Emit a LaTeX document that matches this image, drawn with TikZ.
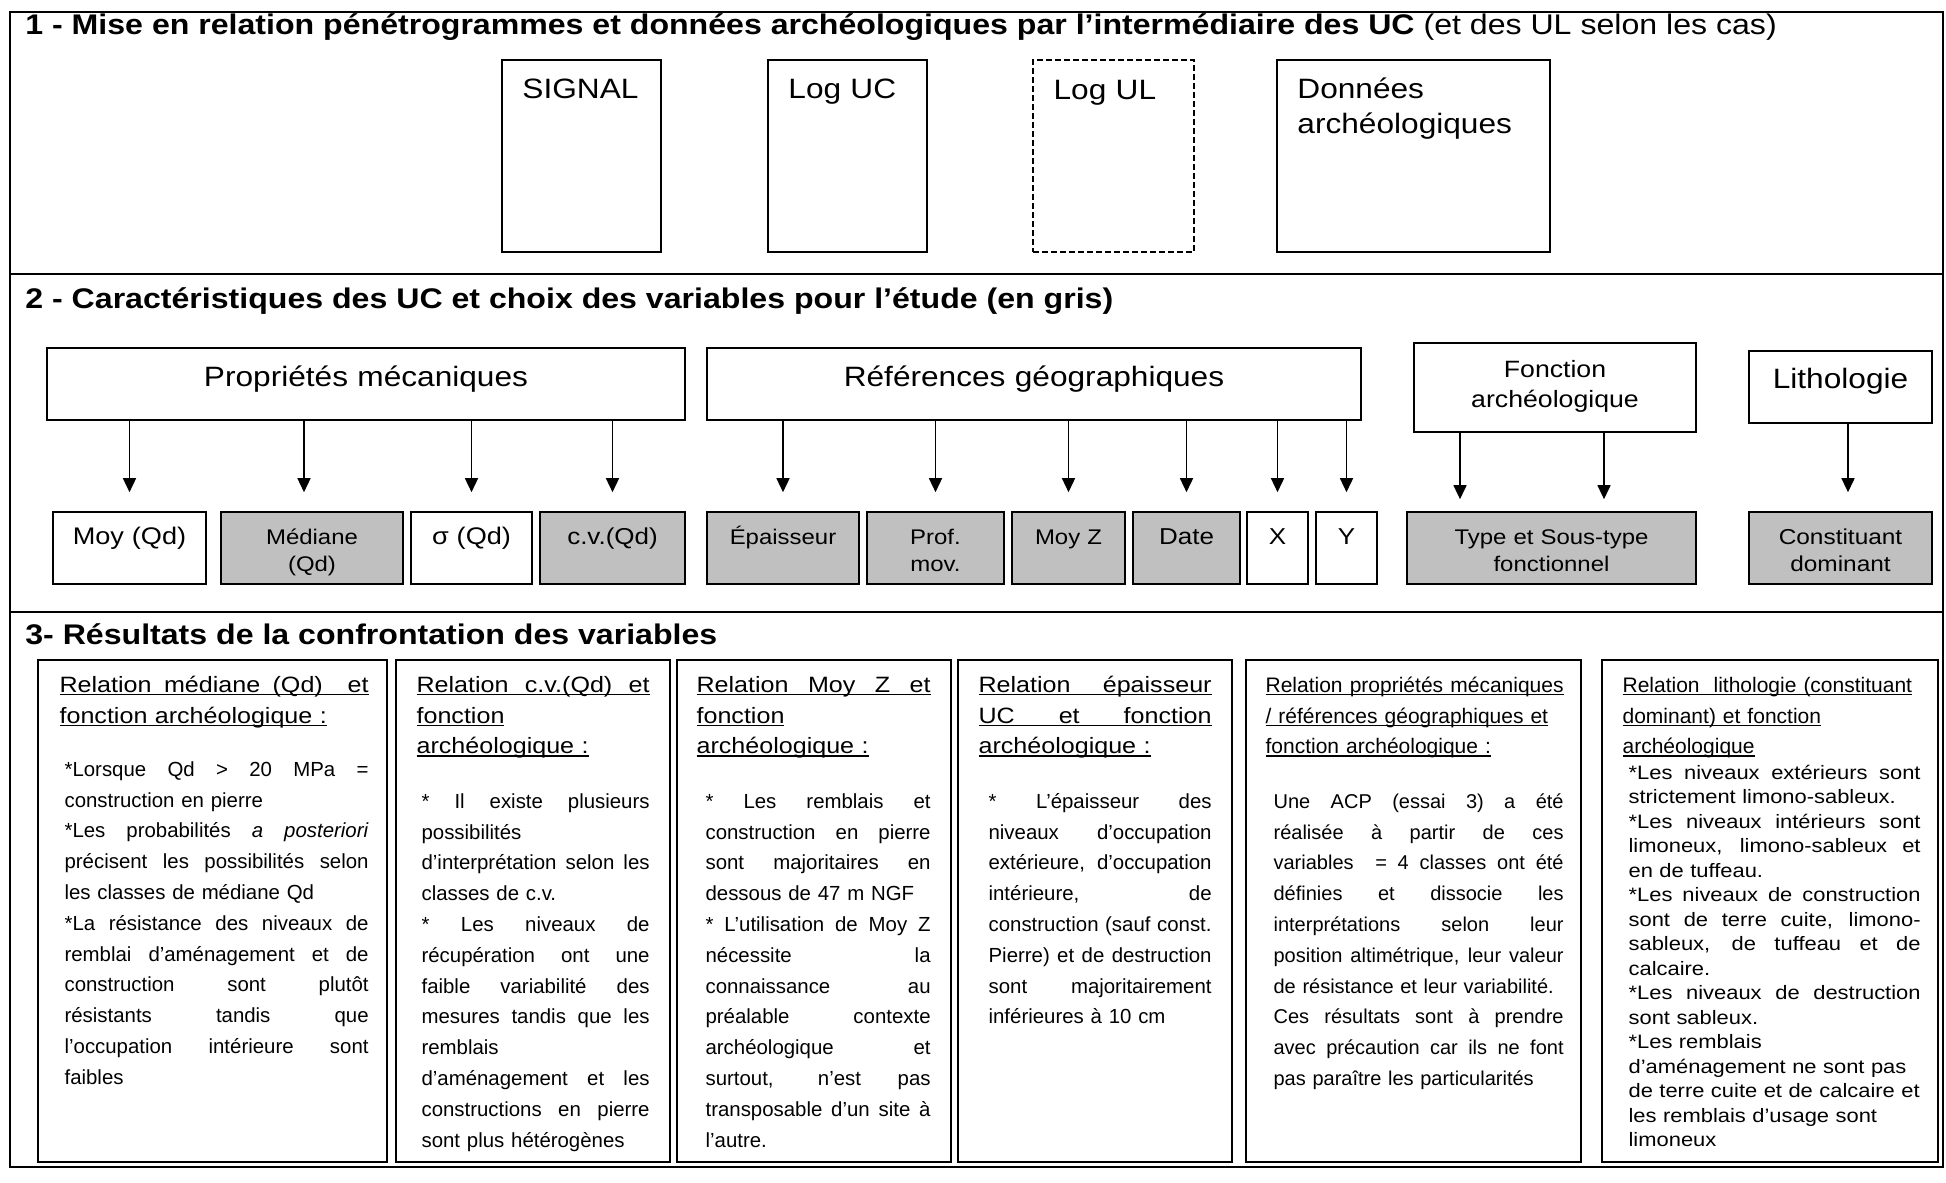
\documentclass[tikz,border=0pt]{standalone}
\usepackage{fontspec}
\setmainfont[FakeStretch=1.13]{Liberation Sans}
\newfontfamily\corpsfont{Liberation Sans}
\usetikzlibrary{arrows.meta,positioning,fit}
\definecolor{gris}{HTML}{C0C0C0}
\newsavebox\ulbox
\newcommand\souligne[1]{\leavevmode\sbox\ulbox{#1}\rlap{\rule[-1.6pt]{\wd\ulbox}{0.8pt}}\usebox\ulbox}
\newcommand\pleine[1]{\makebox[\linewidth][s]{\spaceskip=0pt\relax\xspaceskip=0pt\relax #1}}

\begin{document}
\begin{tikzpicture}[x=0.5pt,y=-0.5pt,
  titre/.style={anchor=base west, inner sep=0pt, font=\fontsize{14.2}{17}\selectfont\bfseries},
  cadre/.style={draw, line width=0.8pt, inner sep=0pt},
  logtxt/.style={anchor=base west, inner sep=0pt, align=left, text width=130pt, font=\fontsize{14}{17.5}\selectfont},
  groupetxt/.style={anchor=base, inner sep=0pt, align=center, text width=300pt, font=\fontsize{14}{15}\selectfont},
  vargris/.style={cadre, fill=gris},
  vartxt/.style={anchor=base, inner sep=0pt, align=center, text width=120pt},
  entete/.style={anchor=base west, inner sep=0pt, align=left, font=\fontsize{11.1}{15.4}\selectfont},
  corps/.style={anchor=base west, inner sep=0pt, align=left, font=\corpsfont\fontsize{10.2}{15.4}\selectfont},
  fleche/.style={-{Triangle[length=7pt,width=6.5pt]}, line width=0.75pt, shorten >=9.5pt}]
  \useasboundingbox (0,0) rectangle (1946,1182);

  % frame and separators
  \draw[line width=1pt] (10,12) rectangle (1943,1167);
  \draw[line width=1pt] (10,274) -- (1943,274);
  \draw[line width=1pt] (10,612) -- (1943,612);

  % 1 - pénétrogrammes / données
  \node[titre] (titre1) at (25,35) {1 - Mise en relation pénétrogrammes et données archéologiques par l’intermédiaire des UC {\mdseries(et des UL selon les cas)}};

  \node[cadre, line width=1pt, fit={(502,60) (661,252)}] (signal) {};
  \node[logtxt] (signal-t) at ([shift={(21,40)}]signal.north west) {SIGNAL};
  \node[cadre, line width=1pt, fit={(768,60) (927,252)}] (loguc) {};
  \node[logtxt] (loguc-t) at ([shift={(21,40)}]loguc.north west) {Log UC};
  \node[cadre, dash pattern=on 3pt off 1.5pt, fit={(1033,60) (1194,252)}] (logul) {};
  \node[logtxt] (logul-t) at ([shift={(21,40)}]logul.north west) {Log UL};
  \node[cadre, line width=1pt, fit={(1277,60) (1550,252)}] (donnees) {};
  \node[logtxt] (donnees-t) at ([shift={(21,40)}]donnees.north west) {Données\\archéologiques};

  % 2 - variables
  \node[titre] (titre2) at (25,308) {2 - Caractéristiques des UC et choix des variables pour l’étude (en gris)};

  \node[cadre, fit={(47,348) (685,420)}] (meca) {};
  \node[groupetxt] (meca-t) at ([shift={(0,39)}]meca.north) {Propriétés mécaniques};
  \node[cadre, fit={(707,348) (1361,420)}] (geo) {};
  \node[groupetxt] (geo-t) at ([shift={(0,39)}]geo.north) {Références géographiques};
  \node[cadre, fit={(1414,343) (1696,432)}] (fonc) {};
  \node[groupetxt, font=\fontsize{11.8}{15}\selectfont] (fonc-t) at ([shift={(0,35)}]fonc.north) {Fonction\\archéologique};
  \node[cadre, fit={(1749,351) (1932,423)}] (litho) {};
  \node[groupetxt] (litho-t) at ([shift={(0,38)}]litho.north) {Lithologie};

  \node[cadre, fit={(53,512) (206,584)}] (moy) {};
  \node[vartxt, font=\fontsize{12}{13.5}\selectfont] (moy-t) at ([shift={(0,33)}]moy.north) {Moy (Qd)};
  \node[vargris, fit={(221,512) (403,584)}] (med) {};
  \node[vartxt, font=\fontsize{10.6}{13.5}\selectfont] (med-t) at ([shift={(0,33)}]med.north) {Médiane\\(Qd)};
  \node[cadre, fit={(411,512) (532,584)}] (sigma) {};
  \node[vartxt, font=\fontsize{12}{13.5}\selectfont] (sigma-t) at ([shift={(0,33)}]sigma.north) {σ (Qd)};
  \node[vargris, fit={(540,512) (685,584)}] (cv) {};
  \node[vartxt, font=\fontsize{11.5}{13.5}\selectfont] (cv-t) at ([shift={(0,33)}]cv.north) {c.v.(Qd)};
  \node[vargris, fit={(707,512) (859,584)}] (epais) {};
  \node[vartxt, font=\fontsize{10.6}{13.5}\selectfont] (epais-t) at ([shift={(0,33)}]epais.north) {Épaisseur};
  \node[vargris, fit={(867,512) (1004,584)}] (prof) {};
  \node[vartxt, font=\fontsize{10.6}{13.5}\selectfont] (prof-t) at ([shift={(0,33)}]prof.north) {Prof.\\mov.};
  \node[vargris, fit={(1012,512) (1125,584)}] (moyz) {};
  \node[vartxt, font=\fontsize{10.6}{13.5}\selectfont] (moyz-t) at ([shift={(0,33)}]moyz.north) {Moy Z};
  \node[vargris, fit={(1133,512) (1240,584)}] (date) {};
  \node[vartxt, font=\fontsize{11.5}{13.5}\selectfont] (date-t) at ([shift={(0,33)}]date.north) {Date};
  \node[cadre, fit={(1247,512) (1308,584)}] (coordx) {};
  \node[vartxt, font=\fontsize{11.5}{13.5}\selectfont] (coordx-t) at ([shift={(0,33)}]coordx.north) {X};
  \node[cadre, fit={(1316,512) (1377,584)}] (coordy) {};
  \node[vartxt, font=\fontsize{11.5}{13.5}\selectfont] (coordy-t) at ([shift={(0,33)}]coordy.north) {Y};
  \node[vargris, fit={(1407,512) (1696,584)}] (type) {};
  \node[vartxt, font=\fontsize{10.6}{13.5}\selectfont] (type-t) at ([shift={(0,33)}]type.north) {Type et Sous-type\\fonctionnel};
  \node[vargris, fit={(1749,512) (1932,584)}] (const) {};
  \node[vartxt, font=\fontsize{10.8}{13.5}\selectfont] (const-t) at ([shift={(0,33)}]const.north) {Constituant\\dominant};

  % arrows
  \coordinate (med-a) at ([xshift=-4pt]med.north);
  \coordinate (type-a) at ([xshift=-45.75pt]type.north);
  \coordinate (type-b) at ([xshift=26.25pt]type.north);
  \coordinate (const-a) at ([xshift=3.75pt]const.north);
  \draw[fleche] (meca.south -| moy.north) -- (moy.north);
  \draw[fleche] (meca.south -| med-a) -- (med-a);
  \draw[fleche] (meca.south -| sigma.north) -- (sigma.north);
  \draw[fleche] (meca.south -| cv.north) -- (cv.north);
  \draw[fleche] (geo.south -| epais.north) -- (epais.north);
  \draw[fleche] (geo.south -| prof.north) -- (prof.north);
  \draw[fleche] (geo.south -| moyz.north) -- (moyz.north);
  \draw[fleche] (geo.south -| date.north) -- (date.north);
  \draw[fleche] (geo.south -| coordx.north) -- (coordx.north);
  \draw[fleche] (geo.south -| coordy.north) -- (coordy.north);
  \draw[fleche, shorten >=6pt] (fonc.south -| type-a) -- (type-a);
  \draw[fleche, shorten >=6pt] (fonc.south -| type-b) -- (type-b);
  \draw[fleche] (litho.south -| const-a) -- (const-a);

  % 3 - résultats
  \node[titre] (titre3) at (25,644) {3- Résultats de la confrontation des variables};

  \node[cadre, fit={(38,660) (387,1162)}] (res1) {};
  \node[entete, text width=154.5pt] (res1-h) at ([shift={(22,33)}]res1.north west) {%
    \souligne{\pleine{Relation médiane (Qd)\ \ et}}\\
    \souligne{fonction archéologique :}};
  \node[corps, text width=152pt] (res1-c) at ([shift={(27,117)}]res1.north west) {%
    \pleine{*Lorsque Qd > 20 MPa =}\\
    construction en pierre\\
    \pleine{*Les probabilités \textit{a posteriori}}\\
    \pleine{précisent les possibilités selon}\\
    les classes de médiane Qd\\
    \pleine{*La résistance des niveaux de}\\
    \pleine{remblai d’aménagement et de}\\
    \pleine{construction sont plutôt}\\
    \pleine{résistants tandis que}\\
    \pleine{l’occupation intérieure sont}\\
    faibles};

  \node[cadre, fit={(396,660) (670,1162)}] (res2) {};
  \node[entete, text width=116.5pt] (res2-h) at ([shift={(21,33)}]res2.north west) {%
    \souligne{\pleine{Relation c.v.(Qd) et}}\\
    \souligne{fonction}\\
    \souligne{archéologique :}};
  \node[corps, text width=114pt] (res2-c) at ([shift={(26,149)}]res2.north west) {%
    \pleine{* Il existe plusieurs}\\
    possibilités\\
    \pleine{d’interprétation selon les}\\
    classes de c.v.\\
    \pleine{* Les niveaux de}\\
    \pleine{récupération ont une}\\
    \pleine{faible variabilité des}\\
    \pleine{mesures tandis que les}\\
    remblais\\
    \pleine{d’aménagement et les}\\
    \pleine{constructions en pierre}\\
    sont plus hétérogènes};

  \node[cadre, fit={(677,660) (951,1162)}] (res3) {};
  \node[entete, text width=117pt] (res3-h) at ([shift={(20,33)}]res3.north west) {%
    \souligne{\pleine{Relation Moy Z et}}\\
    \souligne{fonction}\\
    \souligne{archéologique :}};
  \node[corps, text width=112.5pt] (res3-c) at ([shift={(29,149)}]res3.north west) {%
    \pleine{* Les remblais et}\\
    \pleine{construction en pierre}\\
    \pleine{sont majoritaires en}\\
    dessous de 47 m NGF\\
    \pleine{* L’utilisation de Moy Z}\\
    \pleine{nécessite la}\\
    \pleine{connaissance au}\\
    \pleine{préalable contexte}\\
    \pleine{archéologique et}\\
    \pleine{surtout, n’est pas}\\
    \pleine{transposable d’un site à}\\
    l’autre.};

  \node[cadre, fit={(958,660) (1232,1162)}] (res4) {};
  \node[entete, text width=116.5pt] (res4-h) at ([shift={(21,33)}]res4.north west) {%
    \souligne{\pleine{Relation épaisseur}}\\
    \souligne{\pleine{UC et fonction}}\\
    \souligne{archéologique :}};
  \node[corps, text width=111.5pt] (res4-c) at ([shift={(31,149)}]res4.north west) {%
    \pleine{* L’épaisseur des}\\
    \pleine{niveaux d’occupation}\\
    \pleine{extérieure, d’occupation}\\
    \pleine{intérieure, de}\\
    \pleine{construction (sauf const.}\\
    \pleine{Pierre) et de destruction}\\
    \pleine{sont majoritairement}\\
    inférieures à 10 cm};

  \node[cadre, fit={(1246,660) (1581,1162)}] (res5) {};
  \node[corps, font=\corpsfont\fontsize{10.5}{15.4}\selectfont, text width=149pt] (res5-h) at ([shift={(20,33)}]res5.north west) {%
    \souligne{\pleine{Relation propriétés mécaniques}}\\
    \souligne{/ références géographiques et}\\
    \souligne{fonction archéologique :}};
  \node[corps, font=\corpsfont\fontsize{10}{15.4}\selectfont, text width=145pt] (res5-c) at ([shift={(28,149)}]res5.north west) {%
    \pleine{Une ACP (essai 3) a été}\\
    \pleine{réalisée à partir de ces}\\
    \pleine{variables\ \ = 4 classes ont été}\\
    \pleine{définies et dissocie les}\\
    \pleine{interprétations selon leur}\\
    \pleine{position altimétrique, leur valeur}\\
    de résistance et leur variabilité.\\
    \pleine{Ces résultats sont à prendre}\\
    \pleine{avec précaution car ils ne font}\\
    pas paraître les particularités};

  \node[cadre, fit={(1602,660) (1938,1162)}] (res6) {};
  \node[corps, font=\corpsfont\fontsize{10.5}{15.4}\selectfont, text width=147pt] (res6-h) at ([shift={(21,33)}]res6.north west) {%
    \souligne{Relation\ \ lithologie (constituant}\\
    \souligne{dominant) et fonction}\\
    \souligne{archéologique}};
  \node[corps, font=\fontsize{9.7}{12.25}\selectfont, text width=146pt] (res6-c) at ([shift={(27,120)}]res6.north west) {%
    \pleine{*Les niveaux extérieurs sont}\\
    strictement limono-sableux.\\
    \pleine{*Les niveaux intérieurs sont}\\
    \pleine{limoneux, limono-sableux et}\\
    en de tuffeau.\\
    \pleine{*Les niveaux de construction}\\
    \pleine{sont de terre cuite, limono-}\\
    \pleine{sableux, de tuffeau et de}\\
    calcaire.\\
    \pleine{*Les niveaux de destruction}\\
    sont sableux.\\
    {}*Les remblais\\
    d’aménagement ne sont pas\\
    de terre cuite et de calcaire et\\
    les remblais d’usage sont\\
    limoneux};
\end{tikzpicture}
\end{document}
